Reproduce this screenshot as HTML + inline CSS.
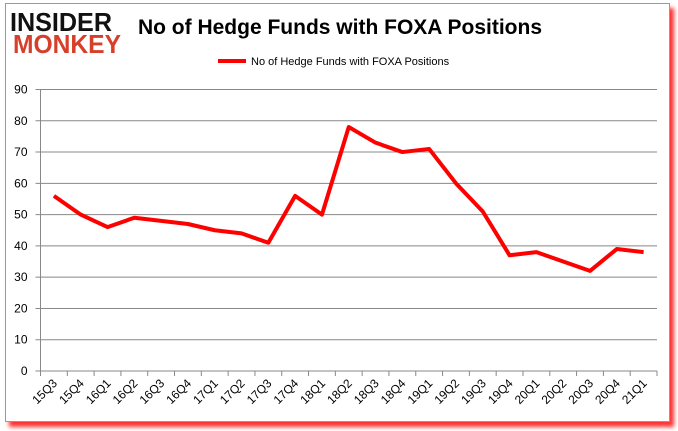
<!DOCTYPE html>
<html><head><meta charset="utf-8"><style>
body{margin:0;background:#fff;width:678px;height:431px;overflow:hidden;font-family:"Liberation Sans",sans-serif}
#card{position:absolute;left:5px;top:3px;width:663px;height:417px;border:1px solid #999;background:#fff;box-shadow:4px 5px 4px #f33}
</style></head><body>
<div id="card"></div>
<svg width="678" height="431" style="position:absolute;left:0;top:0">
<g font-family="Liberation Sans" font-weight="bold">
<text x="10" y="31" font-size="26" fill="#111" textLength="102" lengthAdjust="spacingAndGlyphs">INSIDER</text>
<text x="13" y="53" font-size="26" fill="#d6402b" textLength="108" lengthAdjust="spacingAndGlyphs">MONKEY</text>
</g>
<text x="340" y="34" font-size="21" font-weight="bold" text-anchor="middle" fill="#000">No of Hedge Funds with FOXA Positions</text>
<g>
<line x1="218" y1="61" x2="246" y2="61" stroke="#f00" stroke-width="4"/>
<text x="251" y="65" font-size="11" fill="#000">No of Hedge Funds with FOXA Positions</text>
</g>
<g id="grid"></g><g id="axes"></g><g id="series"></g>
</svg>
<script>
const categories=["15Q3","15Q4","16Q1","16Q2","16Q3","16Q4","17Q1","17Q2","17Q3","17Q4","18Q1","18Q2","18Q3","18Q4","19Q1","19Q2","19Q3","19Q4","20Q1","20Q2","20Q3","20Q4","21Q1"];
const values=[56,50,46,49,48,47,45,44,41,56,50,78,73,70,71,60,51,37,38,35,32,39,38];
const yTicks=[0,10,20,30,40,50,60,70,80,90];
const NS="http://www.w3.org/2000/svg";
const L=40.5,R=657,T=89.5,B=371,ymax=90;
const band=(R-L)/categories.length;
const x=i=>L+band*(i+0.5);
const y=v=>B-(v/ymax)*(B-T);
function mk(t,a,p){const e=document.createElementNS(NS,t);for(const k in a)e.setAttribute(k,a[k]);p.appendChild(e);return e;}
const grid=document.getElementById('grid'),axes=document.getElementById('axes'),series=document.getElementById('series');
yTicks.forEach(v=>{
 const g=mk('line',{x1:L-5,x2:R,y1:y(v),y2:y(v),stroke:'#888','stroke-width':1},grid);
 
 
 const t=mk('text',{x:L-13,y:y(v)+4,'font-size':12,'text-anchor':'end',fill:'#000'},axes);
 t.textContent=v;
 
 
});
const ya=mk('line',{x1:L,x2:L,y1:T,y2:B+5,stroke:'#888'},axes);


for(let i=0;i<=categories.length;i++){mk('line',{x1:L+band*i,x2:L+band*i,y1:B,y2:B+5,stroke:'#888'},axes);}
categories.forEach((c,i)=>{
 const t=mk('text',{transform:`translate(${x(i)+4},${B+13}) rotate(-45)`,'font-size':12,'text-anchor':'end',fill:'#000'},axes);
 t.textContent=c;
 
 
});
const pl=mk('polyline',{points:values.map((v,i)=>x(i)+','+y(v)).join(' '),fill:'none',stroke:'#f00','stroke-width':4,'stroke-linejoin':'round'},series);


</script>
</body></html>
